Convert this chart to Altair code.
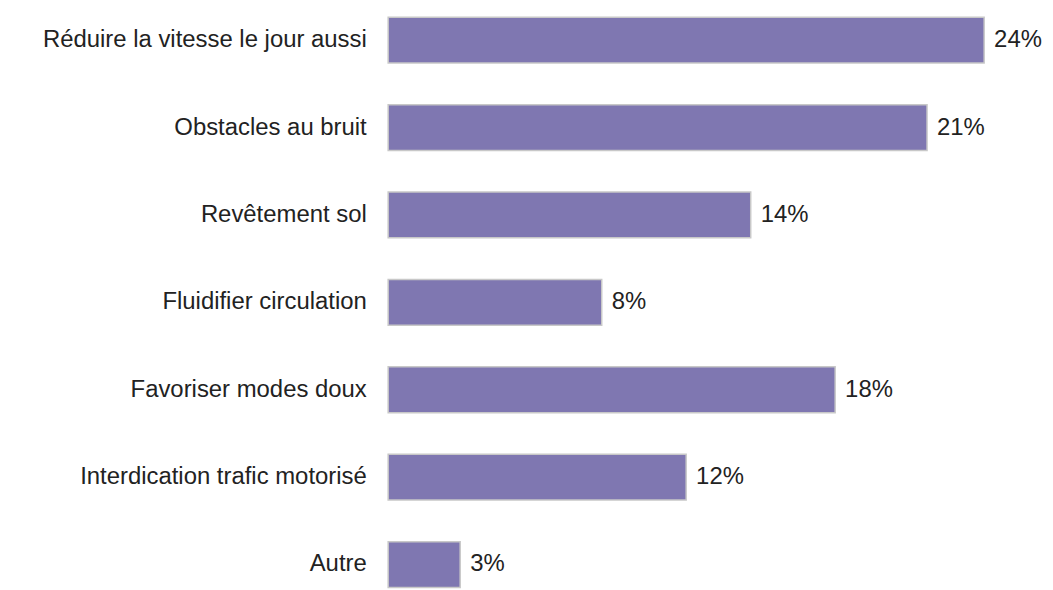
import altair as alt
import pandas as pd

categories = [
    "Réduire la vitesse le jour aussi",
    "Obstacles au bruit",
    "Revêtement sol",
    "Fluidifier circulation",
    "Favoriser modes doux",
    "Interdication trafic motorisé",
    "Autre",
]
values = [24.0, 21.7, 14.6, 8.6, 18.0, 12.0, 2.9]
labels = ["24%", "21%", "14%", "8%", "18%", "12%", "3%"]

df = pd.DataFrame({"cat": categories, "val": values, "lab": labels})

FONT = "Liberation Sans"
FS = 24

y = alt.Y(
    "cat:N",
    sort=categories,
    title=None,
    scale=alt.Scale(paddingInner=0.476, paddingOuter=0.052, align=0.87),
    axis=alt.Axis(
        domain=False,
        ticks=False,
        labelPadding=22,
        labelFontSize=FS,
        labelFont=FONT,
        labelColor="#222222",
        minExtent=382,
        maxExtent=382,
        labelLimit=400,
    ),
)
x = alt.X("val:Q", title=None, scale=alt.Scale(domain=[0, 26.45], nice=False), axis=None)

bars = alt.Chart(df).mark_bar(
    color="#7f77b1", stroke="#c8c8c8", strokeWidth=1.5
).encode(x=x, y=y)

text = alt.Chart(df).mark_text(
    align="left", baseline="middle", dx=10, fontSize=FS, font=FONT, color="#222222"
).encode(x=x, y=y, text="lab:N")

chart = (
    alt.layer(bars, text)
    .properties(width=660, height=582, padding=0)
    .configure_view(stroke=None)
    .configure_axis(grid=False)
)

chart.save("out.html", embed_options={"renderer": "svg", "actions": False})
